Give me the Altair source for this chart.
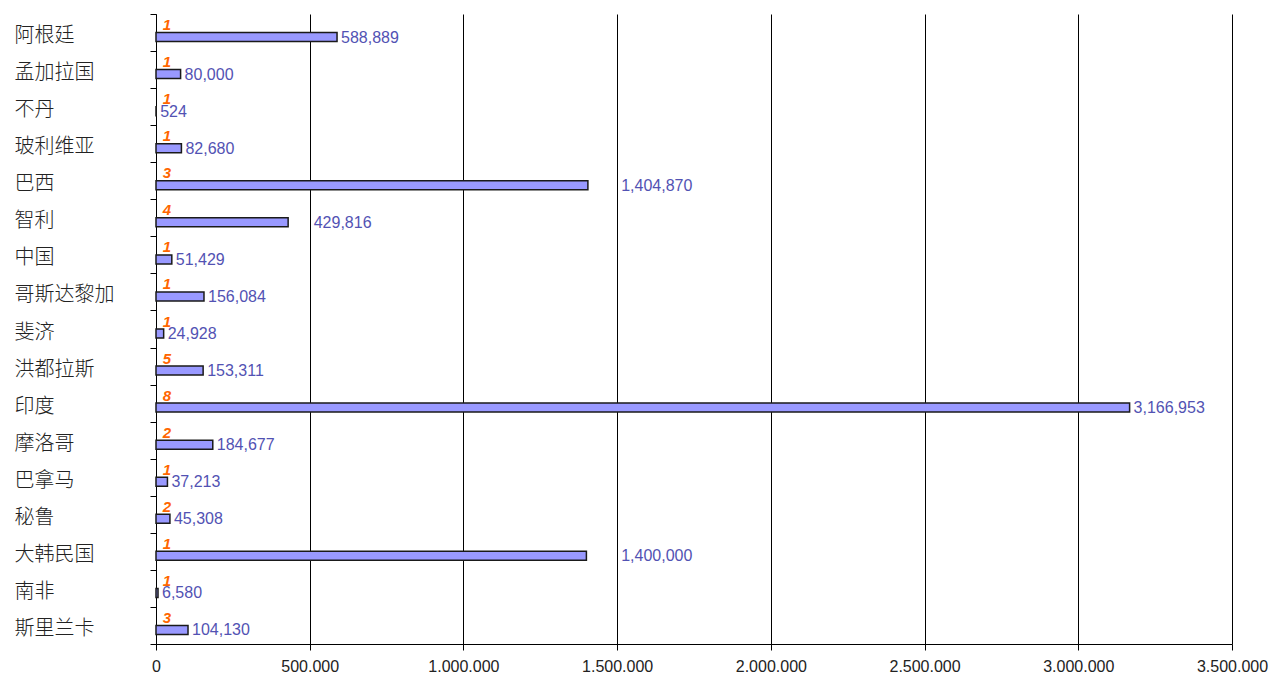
import math
import altair as alt
import pandas as pd

countries = ["阿根廷", "孟加拉国", "不丹", "玻利维亚", "巴西", "智利", "中国", "哥斯达黎加",
             "斐济", "洪都拉斯", "印度", "摩洛哥", "巴拿马", "秘鲁", "大韩民国", "南非", "斯里兰卡"]
values = [588889, 80000, 524, 82680, 1404870, 429816, 51429, 156084,
          24928, 153311, 3166953, 184677, 37213, 45308, 1400000, 6580, 104130]
counts = [1, 1, 1, 1, 3, 4, 1, 1, 1, 5, 8, 2, 1, 2, 1, 1, 3]

X_MAX = 3500000
GRID_STEP = 500000
PLOT_W = 1076
PLOT_H = 630

# value labels that would run across a gridline are pushed to the right of it
px_per_unit = PLOT_W / X_MAX
labels = [f"{v:,}" for v in values]
label_x = []
for v, lab in zip(values, labels):
    g = math.ceil(v / GRID_STEP) * GRID_STEP
    width_px = 5 + len(lab) * 8.6
    if g > v and v * px_per_unit + width_px > g * px_per_unit:
        label_x.append(g)
    else:
        label_x.append(v)

df = pd.DataFrame({
    "country": countries,
    "value": values,
    "count": [str(c) for c in counts],
    "label": labels,
    "label_x": label_x,
    "zero": [0] * len(values),
})

y_enc = alt.Y(
    "country:N", sort=countries, title=None,
    scale=alt.Scale(paddingInner=0, paddingOuter=0),
    axis=alt.Axis(
        domain=True, domainColor="#000000", domainWidth=1,
        ticks=True, tickColor="#000000", tickSize=6, tickBand="extent",
        labelAlign="left", labelPadding=136, labelBaseline="middle",
        labelFont="Noto Sans CJK SC", labelFontSize=20, labelFontWeight=300,
        labelColor="#222222", labelOffset=3, grid=False,
    ),
)

x_scale = alt.Scale(domain=[0, X_MAX], nice=False, zero=True)

bars = alt.Chart(df).mark_bar(
    size=9, yOffset=4.5, fill="#9999ff", stroke="#1a1a1a", strokeWidth=1.5
).encode(
    x=alt.X(
        "value:Q", scale=x_scale, title=None,
        axis=alt.Axis(
            values=list(range(0, X_MAX + 1, GRID_STEP)),
            labelExpr="replace(replace(format(datum.value, ','), ',', '.'), ',', '.')",
            domain=True, domainColor="#000000",
            ticks=True, tickColor="#000000", tickSize=6,
            grid=True, gridColor="#000000", gridOpacity=1, gridWidth=1,
            labelFont="Liberation Sans", labelFontSize=16, labelColor="#222222",
            labelPadding=8, labelFlush=False,
        ),
    ),
    y=y_enc,
)

value_text = alt.Chart(df).mark_text(
    align="left", baseline="middle", dx=4, yOffset=5,
    font="Liberation Sans", fontSize=16, color="#5252b3",
).encode(
    x=alt.X("label_x:Q", scale=x_scale),
    y=alt.Y("country:N", sort=countries),
    text="label:N",
)

count_text = alt.Chart(df).mark_text(
    align="center", baseline="middle", dx=11, yOffset=-7.5,
    font="Liberation Sans", fontSize=15, fontStyle="italic", fontWeight="bold",
    color="#ff6600",
).encode(
    x=alt.X("zero:Q", scale=x_scale),
    y=alt.Y("country:N", sort=countries),
    text="count:N",
)

chart = alt.layer(bars, value_text, count_text).properties(
    width=PLOT_W, height=PLOT_H,
    autosize=alt.AutoSizeParams(type="none"),
    padding={"left": 156, "top": 14, "right": 43, "bottom": 33},
    background="#ffffff",
).configure_view(stroke=None)

chart.save("out.html", embed_options={"renderer": "svg", "actions": False})
